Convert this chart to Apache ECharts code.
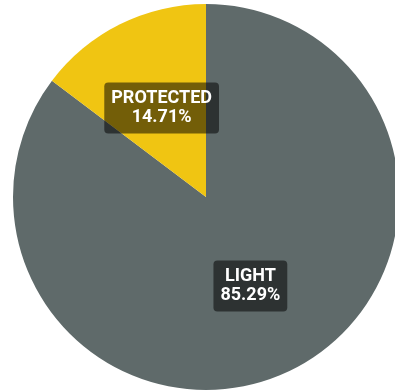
<!DOCTYPE html>
<html>
<head>
<meta charset="utf-8">
<style>
  html, body { margin: 0; padding: 0; background: #ffffff; }
  #chart { width: 395px; height: 390px; }
</style>
<script src="https://cdn.jsdelivr.net/npm/echarts@6/dist/echarts.min.js"></script>
</head>
<body>
<div id="chart"></div>
<script>
// Share of each category, in percent
const categories = ['LIGHT', 'PROTECTED'];
const shares = [85.29, 14.71];
const sliceColors = ['#5f6a6a', '#f0c512'];

const chart = echarts.init(document.getElementById('chart'), null, { renderer: 'canvas' });

chart.setOption({
  animation: false,
  backgroundColor: '#ffffff',
  series: [{
    type: 'pie',
    center: [206, 197],
    radius: 193,
    startAngle: 90,
    clockwise: true,
    avoidLabelOverlap: false,
    itemStyle: { borderWidth: 0 },
    label: {
      show: true,
      position: 'inside',
      formatter: p => p.name + '\n' + p.value.toFixed(2) + '%',
      color: '#ffffff',
      fontFamily: 'Roboto',
      fontWeight: 'bold',
      fontSize: 18,
      lineHeight: 19,
      backgroundColor: 'rgba(0,0,0,0.52)',
      borderRadius: 4,
      padding: [7, 7, 6, 7],
      align: 'center'
    },
    labelLine: { show: false },
    emphasis: { disabled: true },
    data: categories.map((name, i) => ({
      name,
      value: shares[i],
      itemStyle: { color: sliceColors[i] }
    }))
  }]
});
</script>
</body>
</html>
